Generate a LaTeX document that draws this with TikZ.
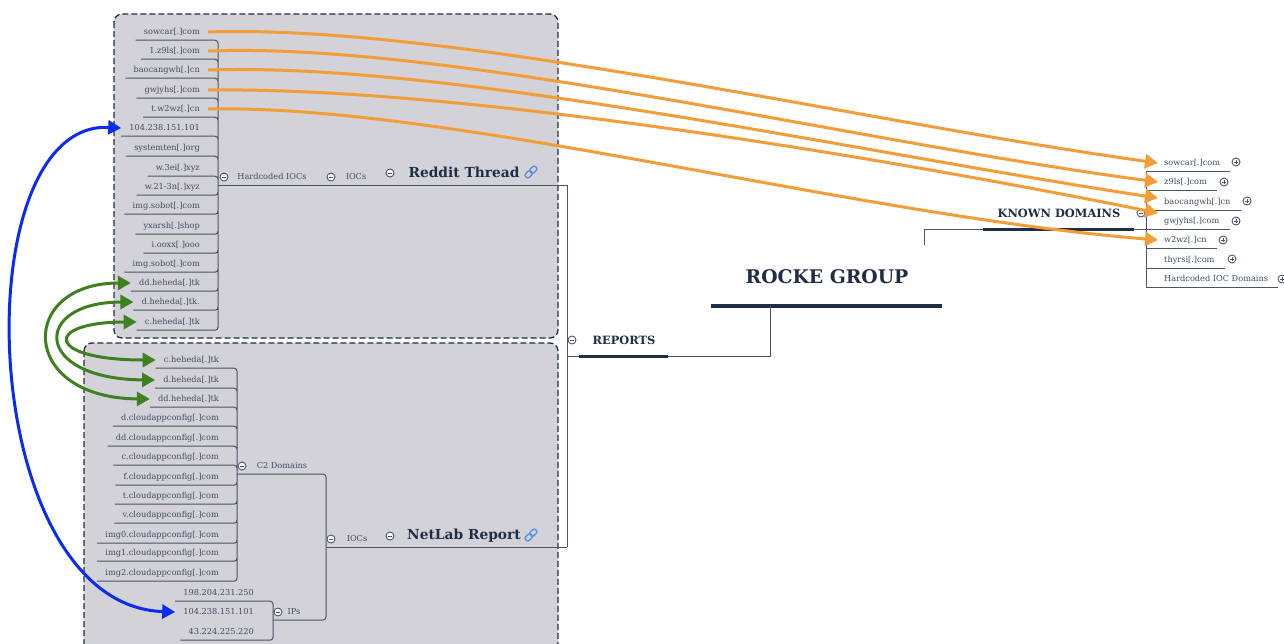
\documentclass[tikz,border=0pt]{standalone}
\usepackage{fontspec}
\setmainfont{DejaVu Serif}
\usetikzlibrary{positioning,arrows.meta,calc}
\definecolor{navy}{HTML}{1F2D45}
\definecolor{slateline}{HTML}{4A5468}
\definecolor{panelgray}{HTML}{D2D2D8}
\definecolor{linkorange}{HTML}{F29D38}
\definecolor{linkblue}{HTML}{0A2BF0}
\definecolor{linkgreen}{HTML}{3F8020}
\definecolor{chainblue}{HTML}{5B8FE0}
\tikzset{
  chainlink/.pic={
    \draw[chainblue, line width=1.4pt, rounded corners=2pt, rotate=45] (-7,-2.5) rectangle (0.5,2.5);
    \draw[chainblue, line width=1.4pt, rounded corners=2pt, rotate=45] (-0.5,-2.5) rectangle (7,2.5);
  }
}

\begin{document}
\begin{tikzpicture}[
    x=1pt, y=-1pt,
    panel/.style={draw=navy, fill=panelgray, line width=1.3pt, dash pattern=on 6pt off 3pt, rounded corners=8pt},
    leaf/.style={font=\fontsize{8.2}{9}\selectfont, text=navy!85, inner xsep=8pt, inner ysep=0pt, text height=7pt, text depth=1.5pt, minimum height=16pt},
    kleaf/.style={leaf, inner xsep=6pt},
    branch/.style={draw=slateline, line width=1pt, rounded corners=3pt},
    rootline/.style={draw=slateline, line width=1pt},
    heavybar/.style={draw=navy, line width=3pt},
    subject/.style={font=\fontsize{13.8}{15}\selectfont\bfseries, text=navy},
    section/.style={font=\fontsize{11.4}{13}\selectfont\bfseries, text=navy},
    central/.style={font=\fontsize{18.8}{21}\selectfont\bfseries, text=navy},
    foldminus/.style={circle, draw=slateline, fill=white, line width=0.9pt, minimum size=8pt, inner sep=0pt,
      path picture={\draw[slateline, line width=0.8pt] (-2,0) -- (2,0);}},
    foldplus/.style={circle, draw=slateline, fill=white, line width=0.9pt, minimum size=8pt, inner sep=0pt,
      path picture={\draw[slateline, line width=0.8pt] (-2,0) -- (2,0) (0,-2) -- (0,2);}},
    orangearrow/.style={{Triangle[length=13pt,width=14pt]}-, draw=linkorange, line width=3pt},
    bluearrow/.style={{Triangle[length=13pt,width=14pt]}-{Triangle[length=13pt,width=14pt]}, draw=linkblue, line width=3pt},
    greenarrow/.style={{Triangle[length=13pt,width=14pt]}-{Triangle[length=13pt,width=14pt]}, draw=linkgreen, line width=3pt},
]
\clip (0,0) rectangle (1284,643);
\fill[white] (0,0) rectangle (1284,643);

% ---- Panels ----
\draw[panel] (114,14) rectangle (558,338);
\draw[panel] (84,343) rectangle (558,680);

% ---- Center and reports ----
\node[central] (rocke) at (827,277) {ROCKE GROUP};
\draw[heavybar, line width=4pt] (711,305.5) -- (942,305.5);
\node[section] (reports) at (624,340) {REPORTS};
\node[foldminus] (foldreports) at (572,340) {};
\coordinate (rootjoin) at (567,356);
\coordinate (rootdrop) at (770,305);
\draw[rootline] (rootjoin) -| (rootdrop);
\draw[heavybar] (579,356) -- (668,356);
\coordinate (redditjoin) at (567,185);
\coordinate (netlabjoin) at (567,547);
\draw[rootline] (redditjoin) -- (netlabjoin);

% ---- Reddit Thread ----
\node[leaf, anchor=east] (r1) at (208,32) {sowcar[.]com};
\node[leaf, anchor=east] (r2) at (208,51) {1.z9ls[.]com};
\node[leaf, anchor=east] (r3) at (208,70) {baocangwh[.]cn};
\node[leaf, anchor=east] (r4) at (208,90) {gwjyhs[.]com};
\node[leaf, anchor=east] (r5) at (208,109) {t.w2wz[.]cn};
\node[leaf, anchor=east] (r6) at (208,128) {104.238.151.101};
\node[leaf, anchor=east] (r7) at (208,148) {systemten[.]org};
\node[leaf, anchor=east] (r8) at (208,168) {w.3ei[.]xyz};
\node[leaf, anchor=east] (r9) at (208,187) {w.21-3n[.]xyz};
\node[leaf, anchor=east] (r10) at (208,206) {img.sobot[.]com};
\node[leaf, anchor=east] (r11) at (208,226) {yxarsh[.]shop};
\node[leaf, anchor=east] (r12) at (208,245) {i.ooxx[.]ooo};
\node[leaf, anchor=east] (r13) at (208,264) {img.sobot[.]com};
\node[leaf, anchor=east] (r14) at (208,283) {dd.heheda[.]tk};
\node[leaf, anchor=east] (r15) at (208,302) {d.heheda[.]tk.};
\node[leaf, anchor=east] (r16) at (208,322) {c.heheda[.]tk};
\coordinate (reddithub) at (218,185);
\draw[branch] (r1.south west) -| (reddithub) (r2.south west) -| (reddithub) (r3.south west) -| (reddithub)
  (r4.south west) -| (reddithub) (r5.south west) -| (reddithub) (r6.south west) -| (reddithub)
  (r7.south west) -| (reddithub) (r8.south west) -| (reddithub) (r9.south west) -| (reddithub)
  (r10.south west) -| (reddithub) (r11.south west) -| (reddithub) (r12.south west) -| (reddithub)
  (r13.south west) -| (reddithub) (r14.south west) -| (reddithub) (r15.south west) -| (reddithub)
  (r16.south west) -| (reddithub);
\node[leaf] (hardcoded) at (272,177) {Hardcoded IOCs};
\node[leaf] (redditiocs) at (356,177) {IOCs};
\node[subject] (reddit) at (464,172) {Reddit Thread};
\node[foldminus] (foldhard) at (224,177) {};
\node[foldminus] (foldredditiocs) at (331,177) {};
\node[foldminus] (foldreddit) at (390,173) {};
\pic at (531,172) {chainlink};
\draw[rootline] (reddithub) -- (redditjoin);

% ---- NetLab Report ----
\node[leaf, anchor=east] (n1) at (227,360) {c.heheda[.]tk};
\node[leaf, anchor=east] (n2) at (227,380) {d.heheda[.]tk};
\node[leaf, anchor=east] (n3) at (227,399) {dd.heheda[.]tk};
\node[leaf, anchor=east] (n4) at (227,418) {d.cloudappconfig[.]com};
\node[leaf, anchor=east] (n5) at (227,438) {dd.cloudappconfig[.]com};
\node[leaf, anchor=east] (n6) at (227,457) {c.cloudappconfig[.]com};
\node[leaf, anchor=east] (n7) at (227,477) {f.cloudappconfig[.]com};
\node[leaf, anchor=east] (n8) at (227,496) {t.cloudappconfig[.]com};
\node[leaf, anchor=east] (n9) at (227,515) {v.cloudappconfig[.]com};
\node[leaf, anchor=east] (n10) at (227,535) {img0.cloudappconfig[.]com};
\node[leaf, anchor=east] (n11) at (227,553) {img1.cloudappconfig[.]com};
\node[leaf, anchor=east] (n12) at (227,573) {img2.cloudappconfig[.]com};
\coordinate (c2hub) at (237,474);
\draw[branch] (n1.south west) -| (c2hub) (n2.south west) -| (c2hub) (n3.south west) -| (c2hub)
  (n4.south west) -| (c2hub) (n5.south west) -| (c2hub) (n6.south west) -| (c2hub)
  (n7.south west) -| (c2hub) (n8.south west) -| (c2hub) (n9.south west) -| (c2hub)
  (n10.south west) -| (c2hub) (n11.south west) -| (c2hub) (n12.south west) -| (c2hub);
\node[leaf, anchor=east] (ip1) at (262,593) {198.204.231.250};
\node[leaf, anchor=east] (ip2) at (262,612) {104.238.151.101};
\node[leaf, anchor=east] (ip3) at (262,632) {43.224.225.220};
\coordinate (iphub) at (273,620);
\draw[branch] (ip1.south west) -| (iphub) (ip3.south west) -| (iphub);
\node[leaf] (c2) at (282,466) {C2 Domains};
\node[leaf] (ips) at (294,612) {IPs};
\node[leaf] (netlabiocs) at (357,539) {IOCs};
\node[subject] (netlab) at (464,536) {NetLab Report};
\coordinate (iocshub) at (326,547);
\draw[branch] (c2hub) -| (iocshub);
\draw[branch] (iphub) -| (iocshub);
\draw[rootline] (iocshub) -- (netlabjoin);
\node[foldminus] (foldc2) at (242,466) {};
\node[foldminus] (foldips) at (278,612) {};
\node[foldminus] (foldnetlabiocs) at (331,539) {};
\node[foldminus] (foldnetlab) at (390,536) {};
\pic at (531,535) {chainlink};

% ---- Known domains ----
\node[section] (known) at (1059,213) {KNOWN DOMAINS};
\coordinate (knowndrop) at (924,245);
\coordinate (knownhub) at (1146,229);
\draw[rootline] (knowndrop) |- (knownhub);
\draw[heavybar] (983,229) -- (1134,229);
\node[foldminus] (foldknown) at (1141,213) {};
\node[kleaf, anchor=west] (k1) at (1158,163) {sowcar[.]com};
\node[kleaf, anchor=west] (k2) at (1158,182) {z9ls[.]com};
\node[kleaf, anchor=west] (k3) at (1158,202) {baocangwh[.]cn};
\node[kleaf, anchor=west] (k4) at (1158,221) {gwjyhs[.]com};
\node[kleaf, anchor=west] (k5) at (1158,240) {w2wz[.]cn};
\node[kleaf, anchor=west] (k6) at (1158,260) {thyrsi[.]com};
\node[kleaf, anchor=west] (k7) at (1158,279) {Hardcoded IOC Domains};
\draw[rootline] (k1.south -| knownhub) -- (k7.south -| knownhub);
\draw[rootline] (k1.south -| knownhub) -- ([xshift=4pt]k1.south east);
\draw[rootline] (k2.south -| knownhub) -- ([xshift=4pt]k2.south east);
\draw[rootline] (k3.south -| knownhub) -- ([xshift=4pt]k3.south east);
\draw[rootline] (k4.south -| knownhub) -- ([xshift=4pt]k4.south east);
\draw[rootline] (k5.south -| knownhub) -- ([xshift=4pt]k5.south east);
\draw[rootline] (k6.south -| knownhub) -- ([xshift=4pt]k6.south east);
\draw[rootline] (k7.south -| knownhub) -- ([xshift=4pt]k7.south east);
\node[foldplus] (foldk1) at (1236,162) {};
\node[foldplus] (foldk2) at (1224,182) {};
\node[foldplus] (foldk3) at (1247,201) {};
\node[foldplus] (foldk4) at (1236,221) {};
\node[foldplus] (foldk5) at (1223,240) {};
\node[foldplus] (foldk6) at (1232,259) {};
\node[foldplus] (foldk7) at (1282,279) {};

% ---- Relationship arrows ----
\draw[orangearrow] (k1.west) .. controls (850,120) and (450,24) .. (r1.east);
\draw[orangearrow] (k2.west) .. controls (850,141) and (450,42) .. (r2.east);
\draw[orangearrow] (k3.west |- 0,198) .. controls (850,151) and (450,62) .. (r3.east);
\draw[orangearrow] (k4.west |- 0,213) .. controls (850,151) and (450,87) .. (r4.east);
\draw[orangearrow] (k5.west) .. controls (850,215) and (450,104) .. (r5.east);
\draw[bluearrow] (r6.west) .. controls (-38,120) and (-25,605) .. (ip2.west);
\draw[greenarrow] (r14.west) .. controls (18,283) and (18,398) .. (n3.west);
\draw[greenarrow] (r15.west) .. controls (32,302) and (32,379) .. (n2.west);
\draw[greenarrow] (r16.west) .. controls (44,322) and (44,360) .. (n1.west);
\end{tikzpicture}
\end{document}
